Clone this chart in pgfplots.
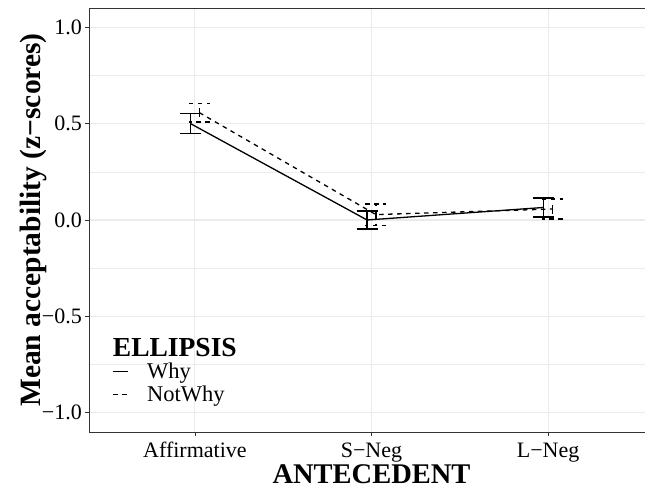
\documentclass[border=0pt]{standalone}
\usepackage{pgfplots}
\pgfplotsset{compat=1.18}
\usepackage{fontspec}
\setmainfont{Liberation Serif}
\definecolor{gridc}{RGB}{235,235,235}
\definecolor{framec}{RGB}{51,51,51}
\pgfplotstableread{
x y e
-0.025 0.500 0.052
0.975 0.000 0.047
1.975 0.065 0.049
}\whytab
\pgfplotstableread{
x y e
0.025 0.557 0.049
1.025 0.028 0.055
2.025 0.057 0.052
}\notwhytab
\begin{document}
\begin{tikzpicture}
\begin{axis}[
 scale only axis, width=565pt, height=424pt,
 xmin=-0.6, xmax=2.6, ymin=-1.1, ymax=1.1,
 axis x line*=box, axis y line*=left,
 xtick={0,1,2}, xticklabels={Affirmative,S−Neg,L−Neg},
 ytick={-1,-0.5,0,0.5,1}, yticklabels={−1.0,−0.5,0.0,0.5,1.0},
 minor ytick={-0.75,-0.25,0.25,0.75},
 xmajorgrids, ymajorgrids, yminorgrids,
 major grid style={gridc, line width=1.1pt},
 minor grid style={gridc, line width=0.55pt},
 axis line style={framec, line width=0.8pt},
 tick align=outside, xtick pos=bottom, ytick pos=left,
 major tick length=4pt, minor tick length=0pt,
 tick style={framec, line width=0.8pt},
 ticklabel style={font=\fontsize{22}{24}\selectfont, inner sep=0pt},
 xticklabel style={anchor=base, yshift=-22pt},
 yticklabel style={anchor=east, xshift=-3pt},
 xlabel={ANTECEDENT},
 ylabel={Mean acceptability (z−scores)},
 xlabel style={at={(axis description cs:0.5,-0.1226)}, anchor=base, inner sep=0pt, font=\fontsize{28.5}{30}\selectfont\bfseries},
 ylabel style={at={(axis description cs:-0.085,0.5)}, anchor=base, inner sep=0pt, font=\fontsize{29.5}{31}\selectfont\bfseries},
 legend style={at={(axis description cs:0.042,0.1627)}, anchor=north west, draw=none, fill=none, inner sep=0pt, outer sep=0pt, font=\fontsize{22.5}{24}\selectfont, row sep=6pt, column sep=18pt, nodes={inner sep=0pt}},
 legend cell align=left,
 legend image code/.code={\draw[#1] (0pt,0pt) -- (15pt,0pt);},
]
\coordinate (SW) at (rel axis cs:0,0);
\addplot[black, line width=1.3pt, error bars/.cd, y dir=both, y explicit, error mark=|,
  error bar style={line width=1.3pt, solid},
  error mark options={line width=1.3pt, mark size=10.5pt, solid}]
  table[x=x, y=y, y error=e]{\whytab};
\addlegendentry{Why}
\addplot[black, line width=1.3pt, dash pattern=on 4.5pt off 4.5pt, error bars/.cd, y dir=both, y explicit, error mark=|,
  error bar style={line width=1.3pt, dash pattern=on 4.5pt off 4.5pt},
  error mark options={line width=1.3pt, mark size=10.5pt, dash pattern=on 4.5pt off 4.5pt}]
  table[x=x, y=y, y error=e]{\notwhytab};
\addlegendentry{NotWhy}
\node[anchor=base west, inner sep=0pt, font=\fontsize{27.5}{29}\selectfont\bfseries] at (axis description cs:0.042,0.1769) {ELLIPSIS};
\end{axis}
\pgfresetboundingbox
\path[use as bounding box] ([xshift=-89pt,yshift=-54pt]SW) rectangle ([xshift=556pt,yshift=432pt]SW);
\end{tikzpicture}
\end{document}
